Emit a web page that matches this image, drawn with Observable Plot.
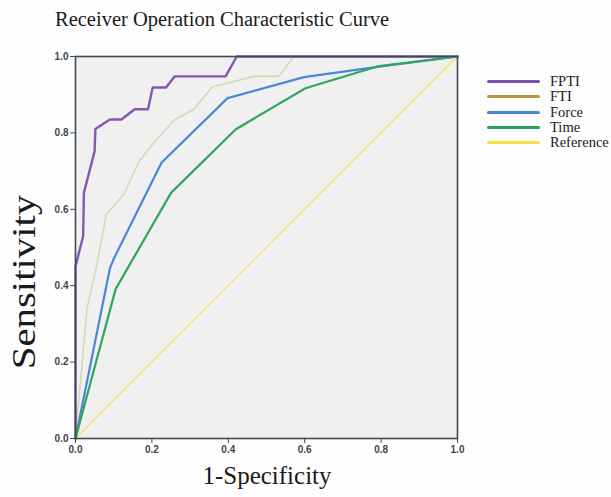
<!DOCTYPE html>
<html>
<head>
<meta charset="utf-8">
<script src="https://cdn.jsdelivr.net/npm/d3@7"></script>
<script src="https://cdn.jsdelivr.net/npm/@observablehq/plot@0.6"></script>
<style>
  html, body { margin: 0; padding: 0; background: #fdfdfe; }
  #wrap { position: relative; width: 611px; height: 497px; overflow: hidden; }
  #chart { position: absolute; left: 0; top: 0; }
  .serif { font-family: "Liberation Serif", "DejaVu Serif", serif; color: #1a1a1a; position: absolute; white-space: nowrap; }
  #title { left: 55px; top: 8px; font-size: 20.5px; }
  #xlabel { left: 0; width: 534px; text-align: center; top: 462px; font-size: 25px; }
  #ylabel { left: 24px; top: 282px; font-size: 34px; transform: translate(-50%, -50%) rotate(-90deg) scaleX(1.2); }
  #legend { position: absolute; left: 487px; top: 74px; font-family: "Liberation Serif", serif; font-size: 14.5px; color: #1a1a1a; }
  .item { display: flex; align-items: center; height: 15.3px; }
  .sw { width: 53px; height: 3px; border-radius: 2px; margin-right: 10px; }
</style>
</head>
<body>
<div id="wrap">
  <div id="chart"></div>
  <div id="title" class="serif">Receiver Operation Characteristic Curve</div>
  <div id="xlabel" class="serif">1-Specificity</div>
  <div id="ylabel" class="serif">Sensitivity</div>
  <div id="legend"></div>
</div>
<script>
// ROC curve points [1-specificity, sensitivity]
const fpti = [[0,0],[0,0.45],[0.02,0.53],[0.022,0.643],[0.05,0.752],[0.052,0.81],[0.09,0.835],[0.12,0.835],[0.155,0.862],[0.19,0.862],[0.202,0.919],[0.237,0.919],[0.26,0.948],[0.393,0.948],[0.422,1],[1,1]];
const fti = [[0,0],[0.03,0.34],[0.055,0.45],[0.08,0.585],[0.127,0.64],[0.166,0.725],[0.21,0.78],[0.26,0.835],[0.31,0.862],[0.358,0.92],[0.467,0.948],[0.532,0.948],[0.571,1],[1,1]];
const force = [[0,0],[0.09,0.445],[0.1,0.47],[0.225,0.722],[0.398,0.891],[0.598,0.946],[0.79,0.973],[1,1]];
const time = [[0,0],[0.105,0.391],[0.25,0.643],[0.419,0.809],[0.602,0.917],[0.79,0.974],[1,1]];
const reference = [[0,0],[1,1]];

const seriesNames = ["FPTI", "FTI", "Force", "Time", "Reference"];
const lineColors = ["#8557b0", "#d5d9b0", "#4c86d6", "#2fa65c", "#efe78e"];
const legendColors = ["#7e4fb0", "#b99543", "#4c86d6", "#23a25a", "#efe045"];
const lineWidths = [2.4, 1.6, 2.2, 2.2, 1.8];
const ticks = [0, 0.2, 0.4, 0.6, 0.8, 1.0];

const all = [fpti, fti, force, time, reference];
const table = [];
all.forEach((pts, i) => pts.forEach(([x, y]) => table.push({series: seriesNames[i], x, y})));

const drawOrder = ["Reference", "FTI", "FPTI", "Force", "Time"];

const plot = Plot.plot({
  width: 611,
  height: 497,
  marginLeft: 75,
  marginRight: 154,
  marginTop: 56,
  marginBottom: 59,
  style: {background: "transparent", fontFamily: "Arial, 'Liberation Sans', sans-serif", fontSize: "10px"},
  x: {domain: [0, 1], ticks: ticks, tickFormat: d3.format(".1f"), label: null},
  y: {domain: [0, 1], ticks: ticks, tickFormat: d3.format(".1f"), label: null},
  marks: [
    Plot.rect([0], {x1: 0, x2: 1, y1: 0, y2: 1, fill: "#f0f0f0"}),
    ...drawOrder.map(name => {
      const i = seriesNames.indexOf(name);
      return Plot.line(table.filter(d => d.series === name), {x: "x", y: "y", stroke: lineColors[i], strokeWidth: lineWidths[i], strokeLinejoin: "miter"});
    }),
    Plot.frame({stroke: "#3e4a52", strokeWidth: 1.6}),
    Plot.axisX({ticks: ticks, tickFormat: d3.format(".1f"), tickSize: 5, tickPadding: 2, stroke: "#3e4a52", fill: "#444", fontWeight: "bold", label: null}),
    Plot.axisY({ticks: ticks, tickFormat: d3.format(".1f"), tickSize: 5, tickPadding: 2, stroke: "#3e4a52", fill: "#444", fontWeight: "bold", label: null})
  ]
});
document.getElementById("chart").appendChild(plot);

const legend = document.getElementById("legend");
seriesNames.forEach((name, i) => {
  const item = document.createElement("div");
  item.className = "item";
  item.innerHTML = `<div class="sw" style="background:${legendColors[i]}"></div><span>${name}</span>`;
  legend.appendChild(item);
});
</script>
</body>
</html>
